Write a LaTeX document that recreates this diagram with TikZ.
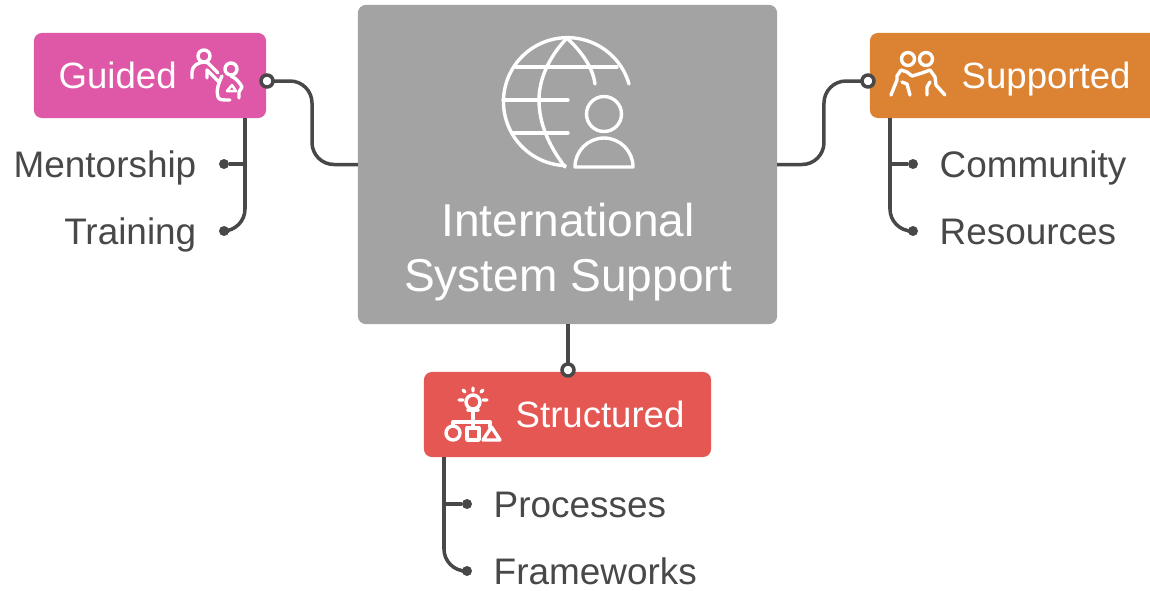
\documentclass[tikz,border=0pt]{standalone}
\usepackage{fontspec}
\setmainfont{Liberation Sans}
\usepackage{tikz}
\definecolor{ink}{HTML}{484848}
\definecolor{graybox}{HTML}{A3A3A3}
\definecolor{pinkbox}{HTML}{DF57A7}
\definecolor{orangebox}{HTML}{DC8233}
\definecolor{redbox}{HTML}{E55753}
\tikzset{
	box/.style={rectangle,rounded corners=0.08cm,minimum height=0.85cm,inner sep=0pt,outer sep=0pt},
	head/.style={text=white,inner sep=0pt,font=\fontsize{10.4}{12}\selectfont},
	item/.style={text=ink,inner sep=0pt,font=\fontsize{10.5}{12}\selectfont},
	link/.style={draw=ink,line width=0.035cm,rounded corners=0.22cm},
	port/.style={circle,draw=ink,fill=white,line width=0.035cm,minimum size=0.12cm,inner sep=0pt,outer sep=0pt},
	dot/.style={circle,fill=ink,minimum size=0.1cm,inner sep=0pt,outer sep=0pt},
	icon/.style={draw=white,line width=0.034cm,line cap=round,line join=round}
}
\begin{document}
\begin{tikzpicture}[x=0.01cm,y=-0.01cm]
	\clip (0,0) rectangle (1150,590);
	\fill[white] (0,0) rectangle (1150,590);
	\node[box,fill=graybox,minimum width=4.19cm,minimum height=3.19cm] (main) at (567.5,164.5) {}; %center
	\node[box,fill=pinkbox,minimum width=2.32cm] (guided) at (150,75.5) {}; %left
	\node[box,fill=orangebox,minimum width=3.00cm] (supported) at (1020,75.5) {}; %right
	\node[box,fill=redbox,minimum width=2.87cm] (structured) at (567.5,414.5) {}; %bottom
	\node[text=white,inner sep=0pt,align=center,font=\fontsize{13.1}{15.65}\selectfont] (title) at (568,252) {International\\System Support};
	\node[head,anchor=base west] (guidedtext) at (58,88) {Guided};
	\node[head,anchor=base west] (supportedtext) at (961,88) {Supported};
	\node[head,anchor=base west] (structuredtext) at (515,427) {Structured};
	\node[item,anchor=base east] (mentorship) at (197,177) {Mentorship};
	\node[item,anchor=base east] (training) at (197,244) {Training};
	\node[item,anchor=base west] (community) at (939,177) {Community};
	\node[item,anchor=base west] (resources) at (939,244) {Resources};
	\node[item,anchor=base west] (processes) at (493,517) {Processes};
	\node[item,anchor=base west] (frameworks) at (493,584) {Frameworks};
	\node[port] (guidedport) at (267,81) {};
	\node[port] (supportedport) at (868,81) {};
	\node[port] (structuredport) at (568,370) {};
	\foreach \name/\x/\y in {mdot/224/164,tdot/224/231,cdot/913/164,rdot/913/231,pdot/467/504,fdot/467/571}{
		\node[dot] (\name) at (\x,\y) {};
	}
	\coordinate (guidedtrunk) at (245,118);
	\coordinate (supportedtrunk) at (890,118);
	\coordinate (structuredtrunk) at (444,457);
	\draw[link] (guidedport.east) -- ++(39,0) |- (main.west); %main links
	\draw[link] (supportedport.west) -- ++(-38,0) |- (main.east);
	\draw[link] (main.south -| structuredport) -- (structuredport.north);
	\foreach \t/\a/\b in {guidedtrunk/mdot/tdot,supportedtrunk/cdot/rdot,structuredtrunk/pdot/fdot}{ %branches
		\draw[link,sharp corners] (\t |- \a) -- (\a);
		\draw[link] (\t) |- (\b);
	}
	\draw[icon] (629,84) arc[start angle=-16,end angle=-268,radius=64]; %globe
	\draw[icon] (567,38) .. controls (548,58) and (539,80) .. (539,100) .. controls (539,125) and (550,147) .. (565,167);
	\draw[icon] (567,38) .. controls (582,52) and (593,68) .. (595,84);
	\draw[icon] (516,67) -- (617,67) (503,100) -- (568,100) (513,133) -- (568,133);
	\draw[icon] (604,114) circle[radius=17.5];
	\draw[icon] (575,167) arc[start angle=-180,end angle=0,radius=29] -- cycle;
	\draw[icon] (204,56) circle[radius=6] (231,69) circle[radius=6]; %guided icon
	\draw[icon] (192,78) -- (192,72) .. controls (192,66) and (198,62) .. (205,62) -- (208,63) -- (218,73);
	\draw[icon] (207,78) -- (207,70) -- (219,82);
	\draw[icon] (222,76) .. controls (218,84) and (216,92) .. (218,97) .. controls (219,100) and (222,100) .. (230,100);
	\draw[icon] (231,76) .. controls (236,78) and (240,83) .. (242,87) -- (239,92) -- (239,98);
	\draw[icon,line width=0.025cm] (227,91) -- (232,85) -- (236,91) -- cycle;
	\draw[icon] (908,59) circle[radius=6.5] (926,59) circle[radius=6.5]; %supported icon
	\draw[icon] (891,95) -- (897,80) -- (897,76) -- (901,70) -- (907,72) -- (912,76) -- (922,73) -- (930,70) -- (935,77) -- (936,85) -- (945,95);
	\draw[icon] (902,82) -- (907,84) -- (910,95);
	\draw[icon] (927,95) -- (927,87) -- (930,82);
	\draw[icon] (473,402) circle[radius=7]; %structured icon
	\draw[icon] (473,388) -- (473,391) (459,400) -- (463,400) (483,400) -- (487,400) (463,390) -- (465,392) (483,390) -- (481,392);
	\draw[icon] (468,410) -- (478,410) (473,410) -- (473,428);
	\draw[icon] (453,426) -- (453,422) -- (490,422) -- (490,427);
	\draw[icon] (453,433) circle[radius=7];
	\draw[icon] (467,428) rectangle (479,440);
	\draw[icon] (483,440) -- (500,440) -- (491.5,427) -- cycle;
\end{tikzpicture}
\end{document}
